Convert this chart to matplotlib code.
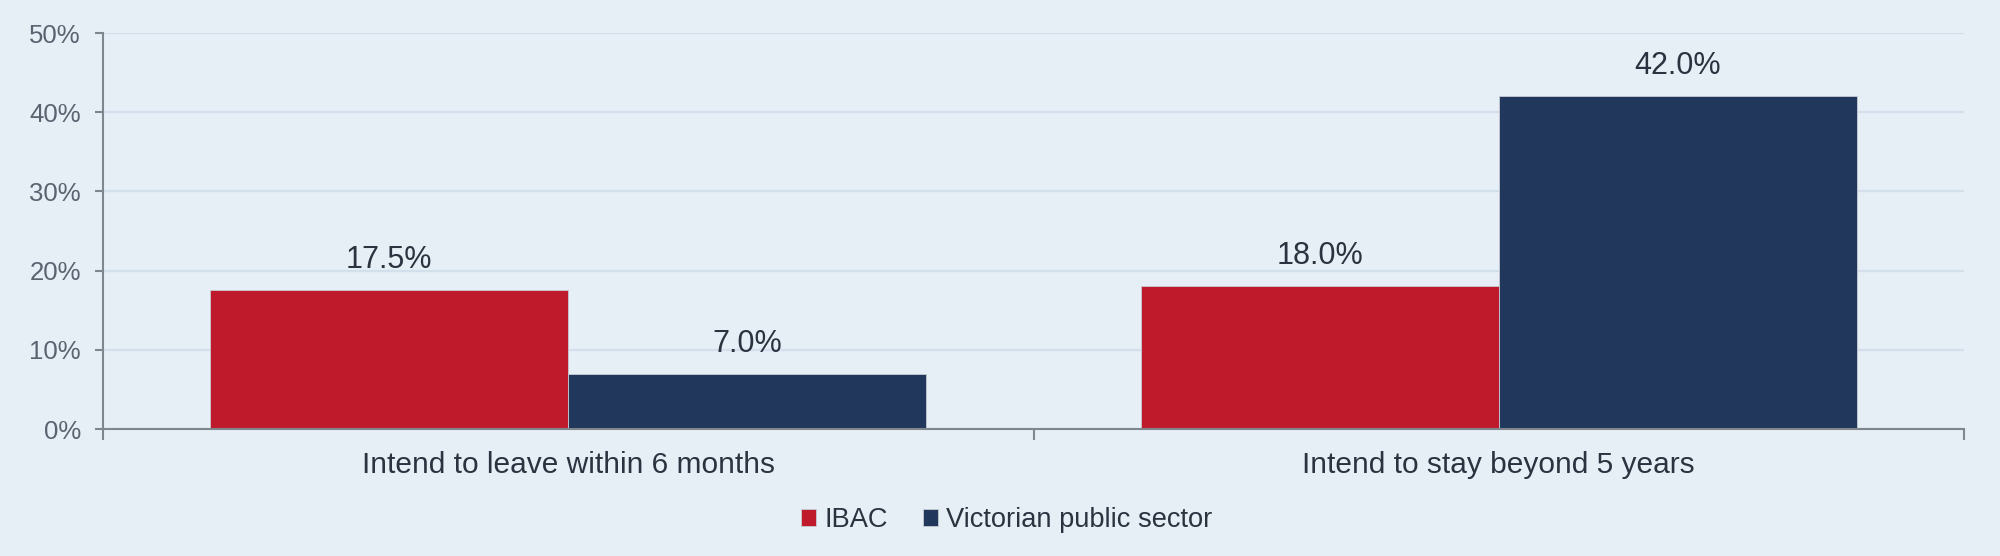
import numpy as np
import matplotlib
matplotlib.use("Agg")
import matplotlib.pyplot as plt
from matplotlib.ticker import FixedLocator, PercentFormatter

# data
categories = ["Intend to leave within 6 months", "Intend to stay beyond 5 years"]
series_names = ["IBAC", "Victorian public sector"]
ibac = [17.5, 18.0]
vps = [7.0, 42.0]
y_ticks = [0, 10, 20, 30, 40, 50]

bg = "#e6eef6"
red = "#be1a2c"
navy = "#21375b"
axis_grey = "#80868e"

plt.rcParams["font.family"] = ["Liberation Sans", "DejaVu Sans"]

fig, ax = plt.subplots(figsize=(20, 5.56), dpi=100)
fig.patch.set_facecolor(bg)
ax.set_facecolor(bg)
fig.subplots_adjust(left=0.0515, right=0.982, bottom=0.2284, top=0.9406)

x = np.arange(len(categories))
width = 0.385
bars1 = ax.bar(x - width / 2, ibac, width, color=red, label=series_names[0],
               edgecolor="#c8ccd2", linewidth=0.6, zorder=3)
bars2 = ax.bar(x + width / 2, vps, width, color=navy, label=series_names[1],
               edgecolor="#c8ccd2", linewidth=0.6, zorder=3)

for bars in (bars1, bars2):
    for b in bars:
        ax.text(b.get_x() + b.get_width() / 2, b.get_height() + 1.9,
                "%.1f%%" % b.get_height(), ha="center", va="bottom",
                fontsize=22, color="#2b3340", zorder=4)

ax.set_xlim(-0.5, len(categories) - 0.5)
ax.set_ylim(0, 50)
ax.set_yticks(y_ticks)
ax.yaxis.set_major_formatter(PercentFormatter(decimals=0))
ax.set_xticks(x)
ax.set_xticklabels(categories)
ax.xaxis.set_minor_locator(FixedLocator(np.arange(len(categories) + 1) - 0.5))

ax.tick_params(axis="x", which="major", length=0, pad=16, labelsize=21.5,
               labelcolor="#2b3340")
ax.tick_params(axis="x", which="minor", length=8, width=1.5, color=axis_grey,
               direction="out")
ax.tick_params(axis="y", length=6, width=1.5, color=axis_grey, pad=10,
               labelsize=18.5, labelcolor="#5a6470")

ax.grid(axis="y", color="#d3e0ec", linewidth=1.6, zorder=0)
ax.set_axisbelow(True)
for side in ("top", "right"):
    ax.spines[side].set_visible(False)
for side in ("left", "bottom"):
    ax.spines[side].set_color(axis_grey)
    ax.spines[side].set_linewidth(1.5)
    ax.spines[side].set_zorder(5)

fig.legend(loc="center", bbox_to_anchor=(1007 / 2000, 1 - 520 / 556),
           ncol=2, frameon=False, fontsize=19.6, handlelength=0.55,
           handleheight=0.55, handletextpad=0.3, columnspacing=1.3,
           labelcolor="#2b3340")

fig.savefig("out.png", dpi=100, facecolor=bg)
